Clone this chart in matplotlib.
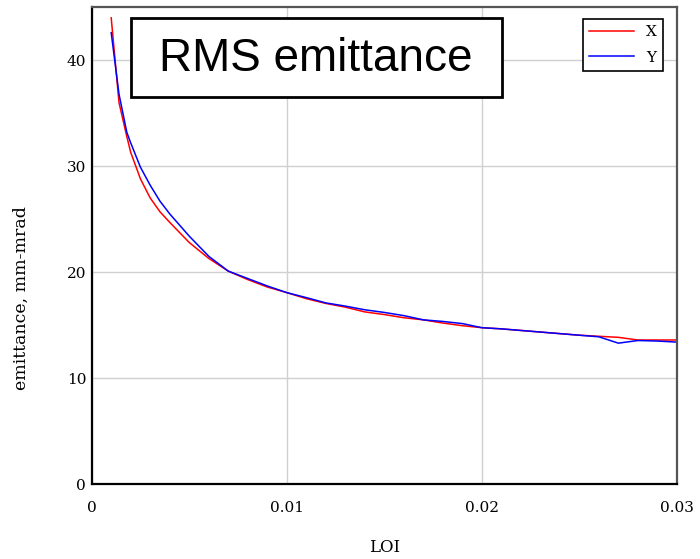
import numpy as np
import matplotlib.pyplot as plt
from matplotlib.patches import Rectangle

# LOI values (same sampling for both planes)
loi = [0.001, 0.0014, 0.0018, 0.002, 0.0025, 0.003, 0.0035, 0.004, 0.005,
       0.006, 0.007, 0.008, 0.009, 0.010, 0.011, 0.012, 0.013, 0.014, 0.015,
       0.016, 0.017, 0.018, 0.019, 0.020, 0.021, 0.022, 0.023, 0.024, 0.025,
       0.026, 0.027, 0.028, 0.029, 0.030]

# RMS emittance, mm-mrad
emit_x = [44.0, 36.0, 32.8, 31.3, 28.8, 27.0, 25.7, 24.7, 22.8, 21.3, 20.1,
          19.3, 18.6, 18.07, 17.5, 17.05, 16.7, 16.25, 16.0, 15.7, 15.5, 15.2,
          14.95, 14.76, 14.65, 14.5, 14.35, 14.2, 14.05, 13.95, 13.85, 13.6,
          13.6, 13.6]
emit_y = [42.6, 36.8, 33.2, 32.2, 29.9, 28.2, 26.7, 25.5, 23.4, 21.5, 20.1,
          19.4, 18.7, 18.07, 17.6, 17.1, 16.8, 16.45, 16.2, 15.9, 15.5, 15.35,
          15.15, 14.76, 14.65, 14.5, 14.35, 14.2, 14.05, 13.9, 13.3, 13.55,
          13.5, 13.4]

serif = "DejaVu Serif"

fig = plt.figure(figsize=(7, 5.59), dpi=100)
ax = fig.add_axes([0.131, 0.134, 0.836, 0.853])

ax.plot(loi, emit_x, color="red", lw=1.1, label="X")
ax.plot(loi, emit_y, color="blue", lw=1.1, label="Y")

ax.set_xlim(0, 0.03)
ax.set_ylim(0, 45)
ax.set_xticks([0, 0.01, 0.02, 0.03])
ax.set_xticklabels(["0", "0.01", "0.02", "0.03"])
ax.set_yticks([0, 10, 20, 30, 40])
ax.grid(True, color="#d0d0d0", lw=1)
ax.tick_params(length=0, labelsize=11)
ax.tick_params(axis="x", pad=12)
ax.tick_params(axis="y", pad=4)
for lab in ax.get_xticklabels() + ax.get_yticklabels():
    lab.set_family(serif)

for s in ["left", "bottom"]:
    ax.spines[s].set_color("black")
    ax.spines[s].set_linewidth(1.6)
for s in ["top", "right"]:
    ax.spines[s].set_color("#555555")
    ax.spines[s].set_linewidth(1.6)

ax.set_xlabel("LOI", family=serif, fontsize=12, va="center")
ax.xaxis.set_label_coords(0.5, -0.134)
ax.set_ylabel("emittance, mm-mrad", family=serif, fontsize=12.5, va="center")
ax.yaxis.set_label_coords(-0.12, 0.39)

leg = ax.legend(loc="upper right", bbox_to_anchor=(0.976, 0.975),
                borderaxespad=0, prop={"family": serif, "size": 11},
                fancybox=False, edgecolor="black", framealpha=1,
                handlelength=2.9, borderpad=0.4, labelspacing=0.75,
                handletextpad=0.8)
leg.get_frame().set_linewidth(1.2)

# title box drawn in figure coordinates
fig.patches.append(Rectangle((131 / 700, 1 - 97 / 559), 371 / 700, 79 / 559,
                             transform=fig.transFigure, fc="white",
                             ec="black", lw=2, zorder=5))
fig.text(316 / 700, 1 - 59 / 559, "RMS emittance", family="Liberation Sans",
         fontsize=33, ha="center", va="center", zorder=6)

fig.savefig("out.png")
